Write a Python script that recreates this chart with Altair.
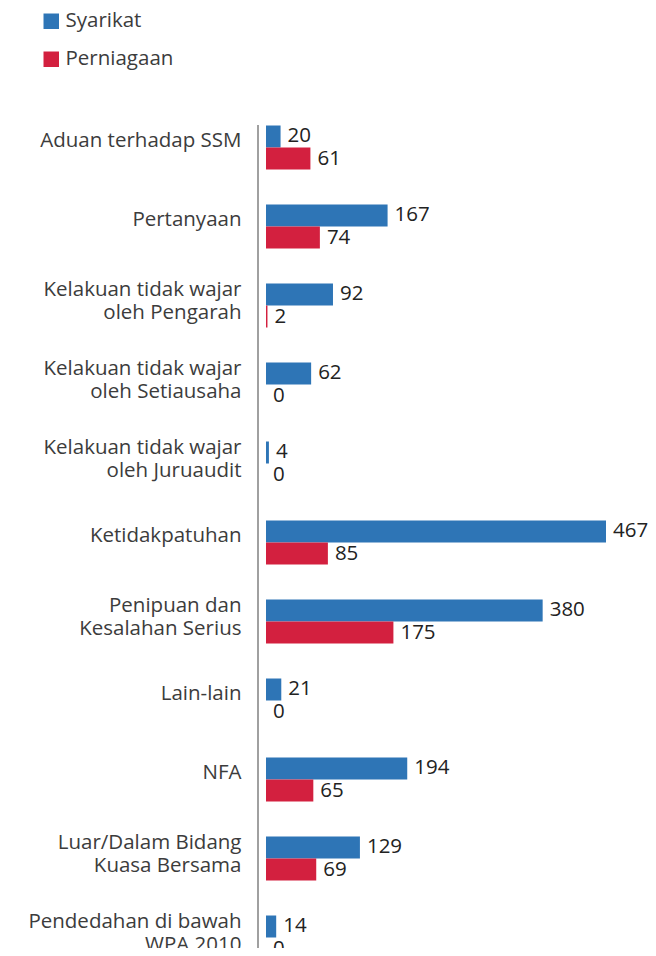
import altair as alt
import pandas as pd

categories = [
    "Aduan terhadap SSM",
    "Pertanyaan",
    "Kelakuan tidak wajar|oleh Pengarah",
    "Kelakuan tidak wajar|oleh Setiausaha",
    "Kelakuan tidak wajar|oleh Juruaudit",
    "Ketidakpatuhan",
    "Penipuan dan|Kesalahan Serius",
    "Lain-lain",
    "NFA",
    "Luar/Dalam Bidang|Kuasa Bersama",
    "Pendedahan di bawah |WPA 2010",
]
series = ["Syarikat", "Perniagaan"]
syarikat = [20, 167, 92, 62, 4, 467, 380, 21, 194, 129, 14]
perniagaan = [61, 74, 2, 0, 0, 85, 175, 0, 65, 69, 0]
colors = ["#2E75B6", "#D3203F"]

rows = []
for i, c in enumerate(categories):
    rows.append({"cat": c, "series": series[0], "value": syarikat[i]})
    rows.append({"cat": c, "series": series[1], "value": perniagaan[i]})
df = pd.DataFrame(rows)

W = 360
H = 840          # visible plot height (page is clipped at the bottom like the reference)
BAND_RANGE = 869  # full extent of the category bands (last group runs past the edge)
FONT = "Open Sans"

y_scale = alt.Scale(range=[0, BAND_RANGE], paddingInner=0.443, paddingOuter=0.2215)
y_enc = alt.Y(
    "cat:N",
    sort=categories,
    title=None,
    scale=y_scale,
    axis=alt.Axis(
        domain=False,
        ticks=False,
        labelPadding=25,
        labelFontSize=20.5,
        labelFont=FONT,
        labelColor="#3c3c3c",
        labelLineHeight=23,
        labelOffset={
            "condition": {"test": "indexof(datum.value, '|') >= 0", "value": -16},
            "value": -7,
        },
        labelExpr="split(datum.label, '|')",
        labelLimit=400,
    ),
)
yoff = alt.YOffset("series:N", sort=series, scale=alt.Scale(paddingInner=0, paddingOuter=0))
x_enc = alt.X("value:Q", scale=alt.Scale(domain=[0, 467 * W / 340]), axis=None, title=None)

bars = alt.Chart(df).mark_bar().encode(
    x=x_enc,
    y=y_enc,
    yOffset=yoff,
    color=alt.Color(
        "series:N",
        sort=series,
        scale=alt.Scale(domain=series, range=colors),
        legend=alt.Legend(
            title=None,
            orient="none",
            legendX=-225,
            legendY=-97,
            symbolType="square",
            symbolSize=240,
            symbolStrokeWidth=0,
            labelFontSize=20.5,
            labelFont=FONT,
            labelColor="#3c3c3c",
            labelOffset=4,
            rowPadding=17,
            padding=0,
        ),
    ),
)

labels = alt.Chart(df).mark_text(
    align="left", baseline="middle", dx=7, fontSize=20.5, font=FONT, color="#222222"
).encode(
    x=x_enc,
    y=alt.Y("cat:N", sort=categories),
    yOffset=yoff,
    text="value:Q",
)

axis_line = alt.Chart(alt.Data(values=[{}])).mark_rule(
    color="#808080", strokeWidth=1.5
).encode(
    x=alt.value(-8),
    y=alt.value(17),
    y2=alt.value(BAND_RANGE),
)

chart = (
    alt.layer(bars, labels, axis_line)
    .properties(
        width=W,
        height=H,
        autosize=alt.AutoSizeParams(type="none"),
        padding={"left": 258, "top": 100, "right": 22, "bottom": 0},
    )
    .configure_view(stroke=None)
)

chart.save("out.html", embed_options={"renderer": "svg", "actions": False})
